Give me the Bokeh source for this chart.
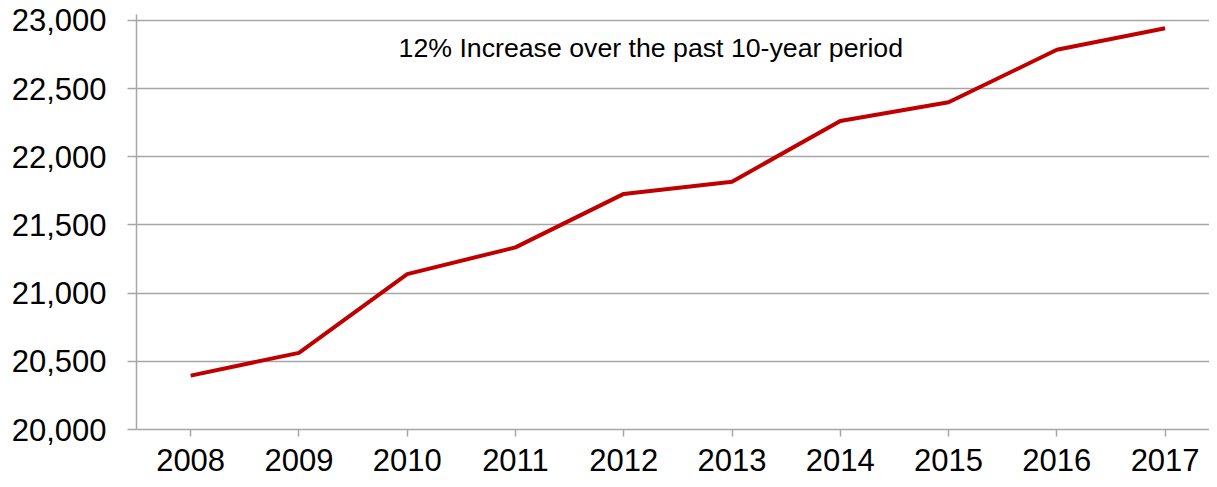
from bokeh.plotting import figure
from bokeh.models import ColumnDataSource, FixedTicker, NumeralTickFormatter, Range1d, Label
from bokeh.embed import file_html
from bokeh.resources import INLINE

years = [2008, 2009, 2010, 2011, 2012, 2013, 2014, 2015, 2016, 2017]
year_labels = ["2008", "2009", "2010", "2011", "2012", "2013", "2014", "2015", "2016", "2017"]
values = [20395, 20562, 21140, 21336, 21728, 21818, 22263, 22400, 22785, 22943]
y_ticks = [20000, 20500, 21000, 21500, 22000, 22500, 23000]
note_text = "12% Increase over the past 10-year period"

FONT = "Liberation Sans"
GRAY = "#A6A6A6"

p = figure(width=1209, height=479, output_backend="svg", toolbar_location=None,
           x_range=Range1d(2007.5, 2017.41), y_range=Range1d(20000, 23044),
           min_border_left=136, min_border_right=0, min_border_top=14, min_border_bottom=50)
p.outline_line_color = None
p.background_fill_color = "white"
p.border_fill_color = "white"

src = ColumnDataSource(dict(x=years, y=values))
p.line("x", "y", source=src, line_color="#C00000", line_width=4)

p.xgrid.visible = False
p.ygrid.grid_line_color = GRAY
p.ygrid.grid_line_width = 1.5
p.ygrid.ticker = FixedTicker(ticks=y_ticks)

p.yaxis.ticker = FixedTicker(ticks=y_ticks)
p.yaxis.formatter = NumeralTickFormatter(format="0,0")
p.xaxis.ticker = FixedTicker(ticks=years)
p.xaxis.major_label_overrides = {y: l for y, l in zip(years, year_labels)}

for ax in (p.xaxis, p.yaxis):
    ax.axis_line_color = GRAY
    ax.axis_line_width = 1.5
    ax.major_tick_line_color = GRAY
    ax.major_tick_line_width = 1.5
    ax.minor_tick_line_color = None
    ax.major_tick_in = 0
    ax.major_label_text_font = FONT
    ax.major_label_text_font_size = "31px"
    ax.major_label_text_color = "black"

p.yaxis.major_tick_out = 9
p.yaxis.major_label_standoff = 21
p.xaxis.major_tick_out = 7
p.xaxis.major_label_standoff = 12

p.add_layout(Label(x=2012.25, y=22800, text=note_text, text_font=FONT, text_font_size="26.7px",
                   text_align="center", text_baseline="middle", text_color="black"))

open("out.html", "w").write(file_html(p, INLINE))
